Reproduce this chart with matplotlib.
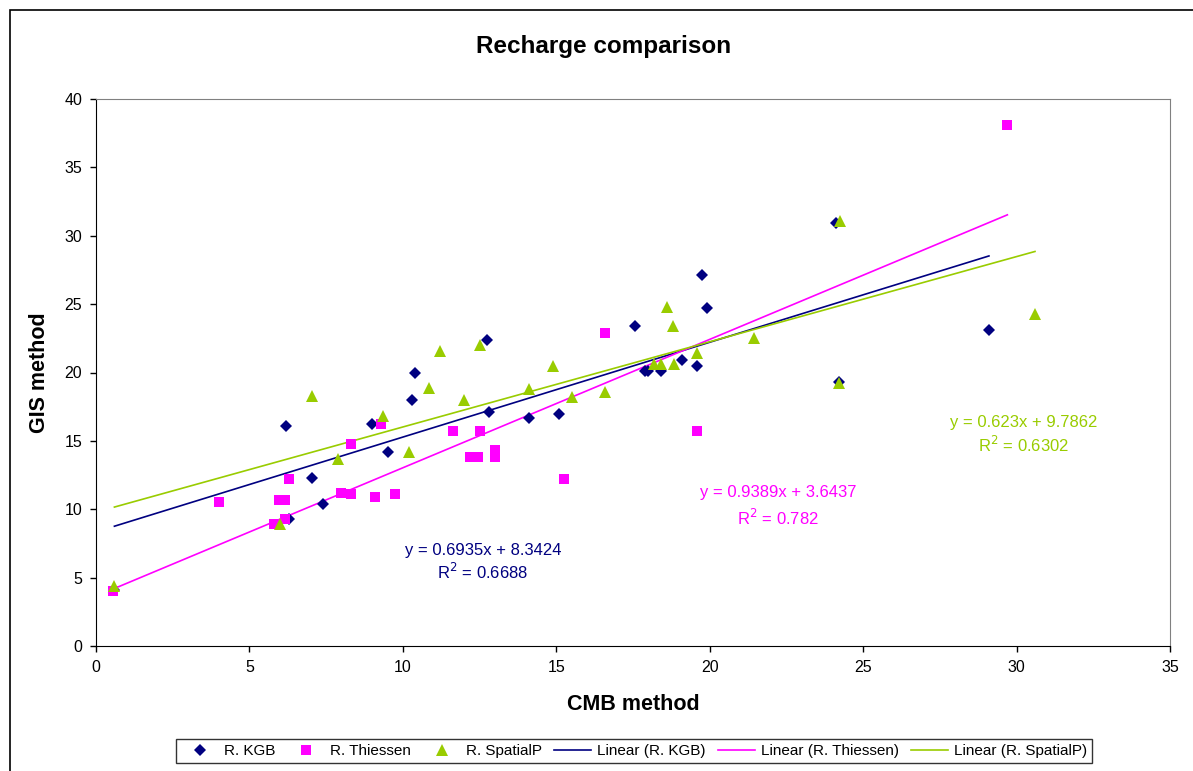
import numpy as np
import matplotlib
matplotlib.use("Agg")
import matplotlib.pyplot as plt
from matplotlib.patches import Rectangle

plt.rcParams['font.family'] = ['Liberation Sans', 'DejaVu Sans']

# R. KGB
kgb_x = [0.6, 6.2, 6.3, 7.05, 7.4, 9.0, 9.5, 10.3, 10.4, 12.75, 12.8, 14.1, 15.1,
         17.55, 17.9, 18.0, 18.4, 19.1, 19.6, 19.75, 19.9, 24.1, 24.2, 29.1]
kgb_y = [4.1, 16.1, 9.3, 12.3, 10.4, 16.2, 14.2, 18.0, 20.0, 22.4, 17.1, 16.7, 17.0,
         23.4, 20.1, 20.1, 20.1, 20.9, 20.5, 27.1, 24.7, 30.9, 19.3, 23.1]

# R. Thiessen
thi_x = [0.55, 4.0, 5.8, 5.95, 6.15, 6.15, 6.3, 8.0, 8.3, 8.3, 9.1, 9.3, 9.75,
         11.65, 12.2, 12.45, 12.5, 13.0, 13.0, 15.25, 16.6, 19.6, 29.7]
thi_y = [4.0, 10.5, 8.9, 10.7, 10.7, 9.3, 12.2, 11.2, 11.1, 14.8, 10.9, 16.2, 11.1,
         15.7, 13.8, 13.8, 15.7, 14.3, 13.8, 12.2, 22.9, 15.7, 38.1]

# R. SpatialP
spa_x = [0.6, 6.0, 7.05, 7.9, 9.35, 10.2, 10.85, 11.2, 12.0, 12.5, 14.1, 14.9, 15.5,
         16.6, 18.2, 18.4, 18.6, 18.8, 18.85, 19.6, 21.45, 24.25, 24.2, 30.6]
spa_y = [4.4, 8.9, 18.3, 13.7, 16.8, 14.2, 18.9, 21.6, 18.0, 22.0, 18.8, 20.5, 18.2,
         18.6, 20.6, 20.6, 24.8, 23.4, 20.6, 21.4, 22.5, 31.1, 19.2, 24.3]

# trendline coefficients shown on chart
slopes = [0.6935, 0.9389, 0.623]
intercepts = [8.3424, 3.6437, 9.7862]
r2 = ["0.6688", "0.782", "0.6302"]

names = ["R. KGB", "R. Thiessen", "R. SpatialP"]
colors = ["#000080", "#FF00FF", "#99CC00"]
markers = ["D", "s", "^"]
msizes = [6.5, 7.5, 8.5]

fig = plt.figure(figsize=(11.93, 7.71), dpi=100)
ax = fig.add_axes([96/1193, 1 - 646/771, (1170 - 96)/1193, (646 - 99)/771])

xs = [kgb_x, thi_x, spa_x]
ys = [kgb_y, thi_y, spa_y]
pts = []
for i in range(3):
    h, = ax.plot(xs[i], ys[i], linestyle='none', marker=markers[i], color=colors[i],
                 markersize=msizes[i], markeredgewidth=0, label=names[i], zorder=3)
    pts.append(h)

lines = []
for i in range(3):
    xx = np.array([min(xs[i]), max(xs[i])])
    h, = ax.plot(xx, slopes[i]*xx + intercepts[i], color=colors[i], lw=1.2,
                 label="Linear (%s)" % names[i], zorder=2)
    lines.append(h)

# equation labels (data coords)
lab_pos = [(12.61, 7.02, 5.41), (22.23, 11.19, 9.36), (30.22, 16.31, 14.7)]
for i in range(3):
    cx, y1, y2 = lab_pos[i]
    ax.text(cx, y1, "y = %sx + %s" % (slopes[i], intercepts[i]), color=colors[i],
            ha='center', va='center', fontsize=12)
    ax.text(cx, y2, "R$^2$ = %s" % r2[i], color=colors[i],
            ha='center', va='center', fontsize=12)

ax.set_xlim(0, 35)
ax.set_ylim(0, 40)
ax.set_xticks(range(0, 36, 5))
ax.set_yticks(range(0, 41, 5))
ax.tick_params(labelsize=11.5, direction='out', length=4, width=1)
ax.tick_params(axis='x', pad=6)
ax.tick_params(axis='y', pad=6)
for s in ['top', 'right']:
    ax.spines[s].set_color('#808080')
for s in ['left', 'bottom']:
    ax.spines[s].set_color('black')

ax.set_xlabel("CMB method", fontsize=15.5, fontweight='bold', labelpad=14)
ax.set_ylabel("GIS method", fontsize=15.5, fontweight='bold', labelpad=10)
fig.text(604/1193, 1 - 47/771, "Recharge comparison", fontsize=17.5, fontweight='bold',
         ha='center', va='center')

leg = fig.legend(handles=pts + lines, loc='center', bbox_to_anchor=(634/1193, 1 - 751/771),
                 ncol=6, fontsize=11, frameon=True, fancybox=False, edgecolor='black',
                 handlelength=2.4, handletextpad=0.4, columnspacing=0.8, borderpad=0.35)
leg.get_frame().set_linewidth(1)

# outer chart border
fig.add_artist(Rectangle((10/1193, -0.1), 1.2, 1.1 - 10/771, transform=fig.transFigure,
                         fill=False, edgecolor='black', lw=1.2))

fig.savefig("out.png", dpi=100)
